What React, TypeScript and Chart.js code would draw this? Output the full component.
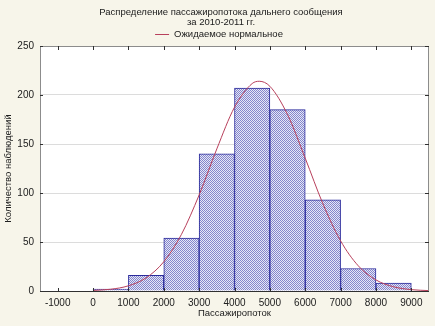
import { useEffect, useRef } from "react";
import { Chart, registerables } from "chart.js";

Chart.register(...registerables);

// ---- data ----
const binStarts = [0, 1000, 2000, 3000, 4000, 5000, 6000, 7000, 8000];
const binWidth = 1000;
const counts = [2, 16, 54, 140, 207, 185, 93, 23, 8];
const curveX = [0, 500, 1000, 1500, 2000, 2500, 3000, 3500, 4000, 4500, 4700, 5000, 5500, 6000, 6500, 7000, 7500, 8000, 8500, 9000, 9500];
const curveY = [0.6, 1.8, 5.3, 13.4, 29.8, 57.8, 98, 145, 187.5, 211.7, 214, 208.9, 180, 135.5, 89, 51.2, 25.7, 11.3, 4.3, 1.4, 0.4];
const xTicks = [-1000, 0, 1000, 2000, 3000, 4000, 5000, 6000, 7000, 8000, 9000];
const yTicks = [0, 50, 100, 150, 200, 250];
const xRange = [-1500, 9500];
const yRange = [0, 250];
const titleLines = ["Распределение пассажиропотока дальнего сообщения", "за 2010-2011 гг."];
const legendLabel = "Ожидаемое нормальное";
const xTitle = "Пассажиропоток";
const yTitle = "Количество наблюдений";

const FONT = "'Liberation Sans', Arial, sans-serif";
const TEXT = "#202020";
const CURVE = "#b8405c";
const BAR_BORDER = "#2a2a9c";

function makeHatch(): CanvasPattern | string {
  const c = document.createElement("canvas");
  c.width = 2;
  c.height = 2;
  const g = c.getContext("2d");
  if (!g) return "#b8bae2";
  g.fillStyle = "#e6e7f6";
  g.fillRect(0, 0, 2, 2);
  g.fillStyle = "#8486cc";
  g.fillRect(0, 0, 1, 1);
  g.fillRect(1, 1, 1, 1);
  const p = g.createPattern(c, "repeat");
  return p || "#b8bae2";
}

export default function App() {
  const ref = useRef<HTMLCanvasElement | null>(null);

  useEffect(() => {
    if (!ref.current) return;
    const hatch = makeHatch();

    const framePlugin = {
      id: "frame",
      beforeDraw(chart: any) {
        const { ctx, chartArea: a } = chart;
        ctx.save();
        ctx.fillStyle = "#ffffff";
        ctx.fillRect(a.left, a.top, a.right - a.left, a.bottom - a.top);
        ctx.restore();
      },
      afterDraw(chart: any) {
        const { ctx, chartArea: a, scales } = chart;
        ctx.save();
        ctx.lineWidth = 1;
        ctx.strokeStyle = "#8c8c8c";
        ctx.beginPath();
        ctx.moveTo(Math.round(a.left) + 0.5, Math.round(a.bottom));
        ctx.lineTo(Math.round(a.left) + 0.5, Math.round(a.top) + 0.5);
        ctx.lineTo(Math.round(a.right) - 0.5, Math.round(a.top) + 0.5);
        ctx.lineTo(Math.round(a.right) - 0.5, Math.round(a.bottom));
        ctx.stroke();
        ctx.strokeStyle = "#303030";
        ctx.beginPath();
        ctx.moveTo(Math.round(a.left), Math.round(a.bottom) + 0.5);
        ctx.lineTo(Math.round(a.right), Math.round(a.bottom) + 0.5);
        ctx.stroke();
        ctx.strokeStyle = "#303030";
        ctx.beginPath();
        for (const v of xTicks) {
          const x = Math.round(scales.x.getPixelForValue(v)) + 0.5;
          ctx.moveTo(x, Math.round(a.bottom));
          ctx.lineTo(x, Math.round(a.bottom) - 3);
          ctx.moveTo(x, Math.round(a.top));
          ctx.lineTo(x, Math.round(a.top) + 4);
        }
        for (const v of yTicks) {
          const y = Math.round(scales.y.getPixelForValue(v)) + 0.5;
          ctx.moveTo(Math.round(a.right), y);
          ctx.lineTo(Math.round(a.right) - 4, y);
          ctx.moveTo(Math.round(a.left), y);
          ctx.lineTo(Math.round(a.left) + 3, y);
        }
        ctx.stroke();

        ctx.fillStyle = TEXT;
        ctx.font = `9.5px ${FONT}`;
        ctx.textAlign = "center";
        ctx.textBaseline = "middle";
        ctx.fillText(titleLines[0], 221, 12);
        ctx.fillText(titleLines[1], 221, 22);
        const tw = ctx.measureText(legendLabel).width;
        const total = 14 + 5 + tw;
        const x0 = 219 - total / 2;
        ctx.strokeStyle = chart.data.datasets[0].borderColor;
        ctx.beginPath();
        ctx.moveTo(x0, 34.5);
        ctx.lineTo(x0 + 14, 34.5);
        ctx.stroke();
        ctx.textAlign = "left";
        ctx.fillText(legendLabel, x0 + 19, 34);
        ctx.restore();
      },
    };

    const chart = new Chart(ref.current, {
      type: "bar",
      data: {
        datasets: [
          {
            type: "line",
            label: legendLabel,
            data: curveX.map((x, i) => ({ x, y: curveY[i] })),
            borderColor: CURVE,
            borderWidth: 1,
            pointRadius: 0,
            fill: false,
            cubicInterpolationMode: "monotone",
            order: 0,
          } as any,
          {
            type: "bar",
            label: "bars",
            data: binStarts.map((s, i) => ({ x: s + binWidth / 2, y: counts[i] })),
            backgroundColor: hatch as any,
            borderColor: BAR_BORDER,
            borderWidth: 1,
            borderSkipped: "bottom",
            barPercentage: 1,
            categoryPercentage: 1,
            order: 1,
          } as any,
        ],
      },
      options: {
        responsive: false,
        animation: false,
        events: [],
        layout: { padding: { top: 46, right: 6, left: 0, bottom: 0 } },
        plugins: {
          legend: { display: false },
          title: { display: false },
          tooltip: { enabled: false },
        },
        scales: {
          x: {
            type: "linear",
            min: xRange[0],
            max: xRange[1],
            offset: false,
            afterBuildTicks: (s: any) => {
              s.ticks = xTicks.map((v) => ({ value: v }));
            },
            afterFit: (s: any) => {
              s.height = 35;
            },
            grid: { display: false, drawTicks: false },
            border: { display: false },
            ticks: {
              padding: 6,
              color: TEXT,
              font: { size: 10, family: FONT },
              maxRotation: 0,
              autoSkip: false,
              callback: (v: any) => String(v),
            },
            title: {
              display: true,
              text: xTitle,
              color: TEXT,
              font: { size: 9.5, family: FONT },
              padding: { top: 0, bottom: 7 },
            },
          },
          y: {
            type: "linear",
            min: yRange[0],
            max: yRange[1],
            afterBuildTicks: (s: any) => {
              s.ticks = yTicks.map((v) => ({ value: v }));
            },
            afterFit: (s: any) => {
              s.width = 40;
            },
            grid: { color: "#dcdcdc", drawTicks: false },
            border: { display: false },
            ticks: {
              padding: 6,
              color: TEXT,
              font: { size: 10, family: FONT },
              callback: (v: any) => String(v),
            },
            title: {
              display: true,
              text: yTitle,
              color: TEXT,
              font: { size: 9.5, family: FONT },
              padding: { top: 3, bottom: 0 },
            },
          },
        },
      },
      plugins: [framePlugin],
    });
    return () => chart.destroy();
  }, []);

  return (
    <div
      style={{
        position: "fixed",
        left: 0,
        top: 0,
        width: 435,
        height: 326,
        background: "#f7f5ea",
      }}
    >
      <canvas ref={ref} width={435} height={326} style={{ width: 435, height: 326, display: "block" }} />
    </div>
  );
}
